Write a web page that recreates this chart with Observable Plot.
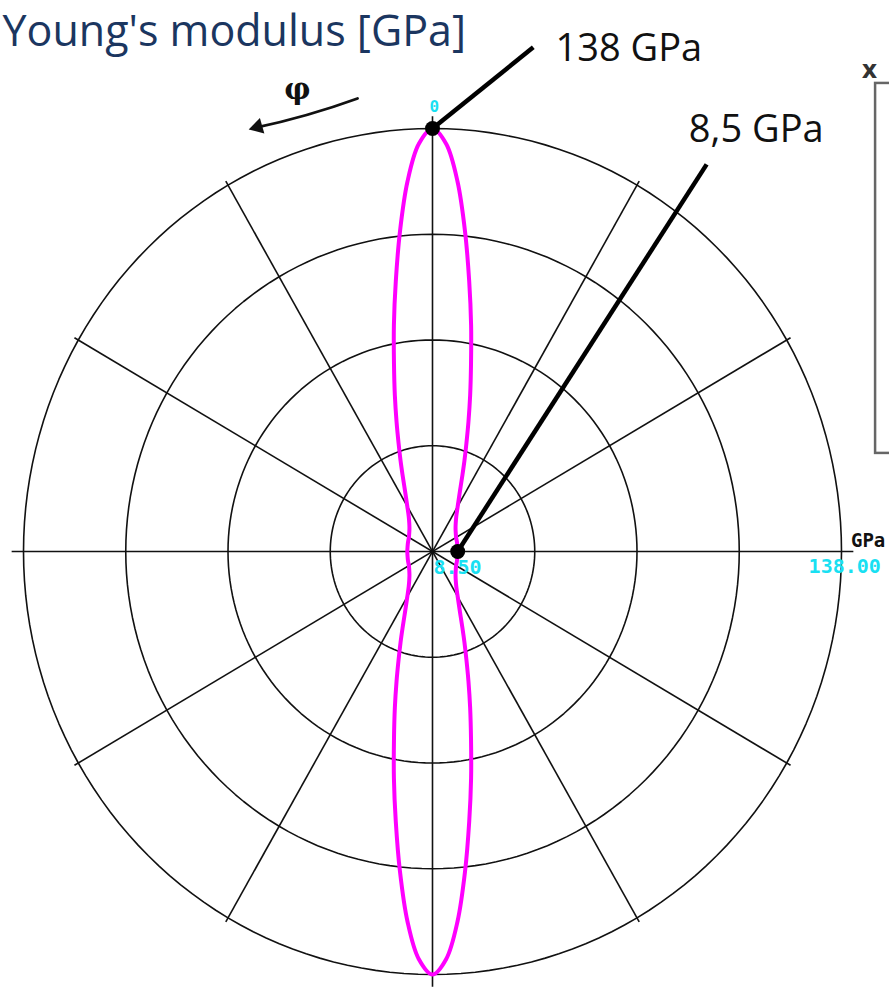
<!DOCTYPE html>
<html><head><meta charset="utf-8">
<script src="https://cdn.jsdelivr.net/npm/d3@7"></script>
<script src="https://cdn.jsdelivr.net/npm/@observablehq/plot@0.6"></script>
<style>body{margin:0;background:#fff}#chart svg{display:block}</style>
</head><body><div id="chart"></div>
<script>
// Data (one quadrant; the polar curve is symmetric)
const angles  = [0, 2, 4, 6, 8, 10, 12, 14, 16, 18, 20, 22, 25, 30, 35, 40, 45, 50, 60, 70, 80, 90];
const modulus = [138, 133, 121, 105, 89, 75, 62.5, 52.5, 44, 37, 31.5, 27, 22, 17, 14, 12.2, 11, 10.2, 9.2, 8.8, 8.55, 8.5];
const ringValues = [34.5, 69, 103.5, 138];
const spokeAngles = [0, 30, 60, 90, 120, 150];
const maxValue = 138;
const minValue = 8.5;
const calloutLabels = ["138 GPa", "8,5 GPa"];
const scaleLabels = ["0", "8.50", "138.00", "GPa"];
const titleText = "Young's modulus [GPa]";

const rad = d => d * Math.PI / 180;
const px = (phi, r) => -r * Math.sin(rad(phi));
const py = (phi, r) => r * Math.cos(rad(phi));

// full curve via symmetry
const n = angles.length;
const full = [];
angles.forEach((a, i) => full.push([a, modulus[i]]));
for (let i = n - 2; i >= 0; i--) full.push([180 - angles[i], modulus[i]]);
for (let i = 1; i < n; i++) full.push([180 + angles[i], modulus[i]]);
for (let i = n - 2; i >= 1; i--) full.push([360 - angles[i], modulus[i]]);
const curve = full.map(([a, e]) => ({x: px(a, e), y: py(a, e)}));

const rings = [];
ringValues.forEach(r => { for (let a = 0; a <= 360; a += 2) rings.push({r, x: px(a, r), y: py(a, r)}); });

const spokes = spokeAngles.map(a => {
  const L = a % 90 === 0 ? 142 : 139.5;
  return {x1: px(a, L), y1: py(a, L), x2: px(a + 180, L), y2: py(a + 180, L)};
});

const points = [{phi: 0, r: maxValue}, {phi: 270, r: minValue}];
const callouts = [
  {x: px(0, maxValue), y: py(0, maxValue), lx: 34, ly: 164.5, tx: 41.5, ty: 164, text: calloutLabels[0]},
  {x: px(270, minValue), y: py(270, minValue), lx: 92.5, ly: 126.3, tx: 86.5, ty: 137.5, text: calloutLabels[1]}
];
const cyan = "#19e0f2";
const scaleText = [
  {x: 0.6, y: 145.2, text: scaleLabels[0], size: 16, fill: cyan, anchor: "middle"},
  {x: 0.3, y: -5.4, text: scaleLabels[1], size: 20, fill: cyan, anchor: "start"},
  {x: 126.9, y: -5.0, text: scaleLabels[2], size: 20, fill: cyan, anchor: "start"},
  {x: 141.2, y: 3.6, text: scaleLabels[3], size: 19, fill: "#111", anchor: "start"}
];

const chart = Plot.plot({
  width: 889, height: 991, margin: 0,
  x: {domain: [-138, 138], range: [23, 841], axis: null},
  y: {domain: [-138, 138], range: [974, 128], axis: null},
  marks: [
    Plot.line(rings, {x: "x", y: "y", z: "r", stroke: "#111", strokeWidth: 1.6}),
    Plot.link(spokes, {x1: "x1", y1: "y1", x2: "x2", y2: "y2", stroke: "#111", strokeWidth: 1.6}),
    Plot.line(curve, {x: "x", y: "y", stroke: "#ff00ff", strokeWidth: 4, curve: "catmull-rom-closed"}),
    Plot.link(callouts, {x1: "x", y1: "y", x2: "lx", y2: "ly", stroke: "#000", strokeWidth: 4.5}),
    Plot.dot(points, {x: d => px(d.phi, d.r), y: d => py(d.phi, d.r), r: 7.5, fill: "#000"}),
    Plot.text(callouts, {x: "tx", y: "ty", text: "text", textAnchor: "start", fontSize: 38, fill: "#111", fontFamily: "Open Sans"}),
    ...scaleText.map(d => Plot.text([d], {x: "x", y: "y", text: "text", textAnchor: d.anchor, fontSize: d.size, fill: d.fill, fontWeight: "bold", fontFamily: "DejaVu Sans Mono"})),
    Plot.arrow([{x1: -25.3, y1: 147.8, x2: -60, y2: 138.2}], {x1: "x1", y1: "y1", x2: "x2", y2: "y2", stroke: "#111", strokeWidth: 2.8, headLength: 0, bend: 4}),
    Plot.dot([{x: -59, y: 138.5}], {x: "x", y: "y", symbol: "triangle", r: 6, fill: "#111", rotate: 254}),
    Plot.text(["φ"], {x: -45.6, y: 150.6, fontSize: 29, fontWeight: "bold", fontFamily: "DejaVu Serif", fill: "#111"}),
    Plot.rect([{x1: 149.5, x2: 165, y1: 32, y2: 152.7}], {x1: "x1", x2: "x2", y1: "y1", y2: "y2", stroke: "#666", strokeWidth: 2.5, fill: "none"}),
    Plot.text(["x"], {x: 147.4, y: 157, fontSize: 24, fontWeight: "bold", fontFamily: "DejaVu Sans", fill: "#333"}),
    Plot.text([titleText], {frameAnchor: "top-left", dx: 2, dy: 15, lineAnchor: "top", textAnchor: "start", fontSize: 43, fill: "#1b3660", fontFamily: "Open Sans"})
  ]
});
document.getElementById("chart").append(chart);
</script></body></html>
